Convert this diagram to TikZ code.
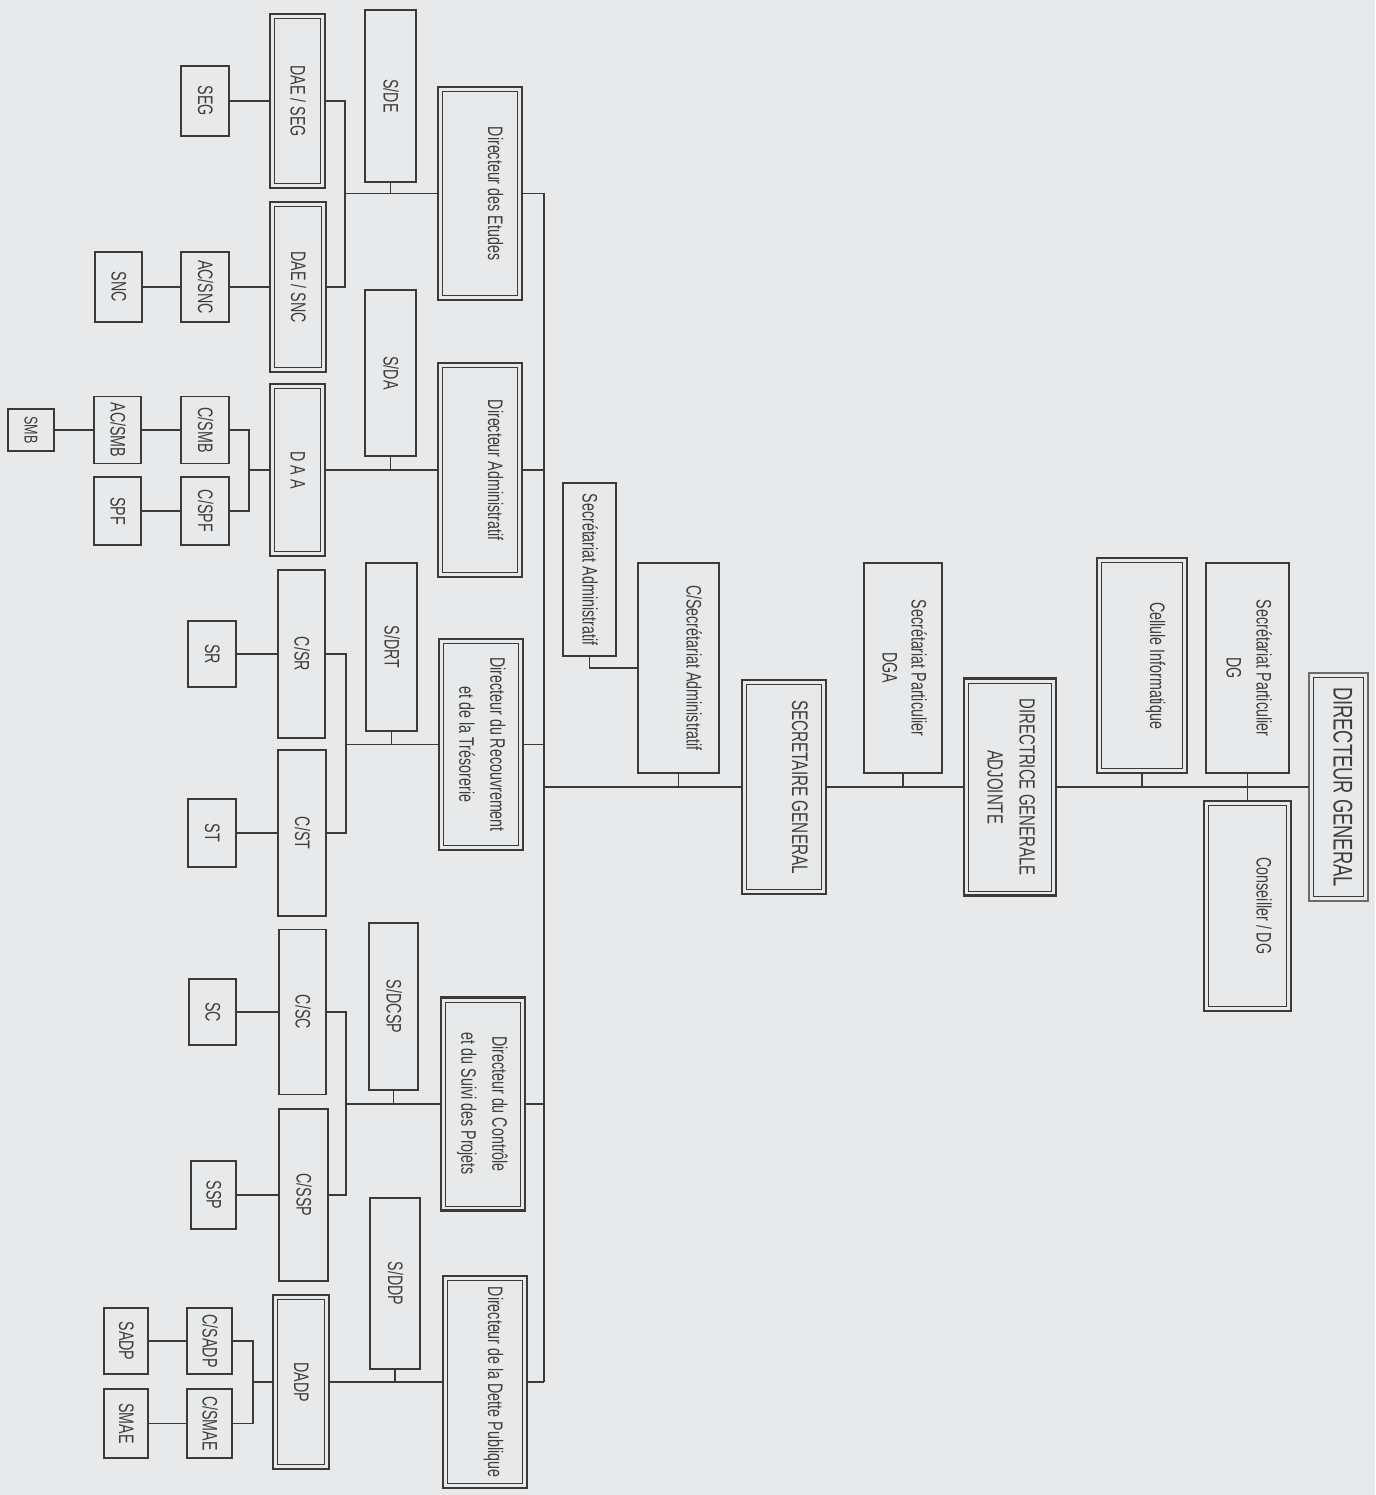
\documentclass[tikz,border=0pt]{standalone}
\usepackage{fontspec}
\setmainfont[FakeStretch=0.68]{Liberation Sans}
\usepackage{graphicx}
\definecolor{bg}{RGB}{231,233,235}
\definecolor{ink}{RGB}{58,58,58}
\definecolor{txt}{RGB}{62,62,62}
\newcommand\one[2][-7pt]{\rotatebox{-90}{\raisebox{#1}[0pt][0pt]{#2}}}
\newcommand\two[1]{\rotatebox{-90}{\begin{tabular}{@{}c@{}}#1\end{tabular}}}
\tikzset{
  box/.style={rectangle, inner sep=0pt, outer sep=0pt, text=txt, font=\fontsize{21}{31}\selectfont},
  sz/.style 2 args={minimum width=#1pt, minimum height=#2pt},
  thin/.style={box, draw=ink, line width=1.3pt},
  thick/.style={box, draw=ink, line width=2.8pt},
  dbl/.style={box, draw=ink, line width=2.4pt,
    path picture={\draw[ink, line width=1pt]
      ([shift={(4.5pt,-4.5pt)}]path picture bounding box.north west) rectangle
      ([shift={(-4.5pt,4.5pt)}]path picture bounding box.south east);}},
  con/.style={draw=ink, line width=1.4pt}
}
\begin{document}
\begin{tikzpicture}[x=1pt,y=-1pt]
\fill[bg] (0,0) rectangle (1375,1495);
\useasboundingbox (0,0) rectangle (1375,1495);

% ---------- Directeur des Etudes ----------
\node[thin,sz={48}{70}] (SEG) at (205,101) {\one{SEG}};
\node[dbl,sz={55}{174}] (DAESEG) at (297.5,101) {\one{DAE / SEG}};
\node[thick,sz={51}{172}] (SDE) at (390.5,96) {\one{S/DE}};
\node[dbl,sz={84}{213}] (DE) at (480,193.5) {\one[8pt]{Directeur des Etudes}};
\node[thin,sz={47}{70}] (SNC) at (118.5,287) {\one{SNC}};
\node[thin,sz={48}{70}] (ACSNC) at (205,287) {\one{AC/SNC}};
\node[dbl,sz={56}{170}] (DAESNC) at (298,287) {\one{DAE / SNC}};
\coordinate (spT) at (544,193.5);
\coordinate (spB) at (544,1382);
\coordinate (bE) at (345,193.5);
\draw[con] (SEG.east) -- (SEG.east -| DAESEG.west);
\draw[con] (DAESEG.east) -| (bE) |- (DAESNC.east);
\draw[con] (SNC.east) -- (SNC.east -| ACSNC.west);
\draw[con] (ACSNC.east) -- (ACSNC.east -| DAESNC.west);
\draw[con] (bE) -- (bE -| DE.west);
\draw[con] (SDE.south) -- (SDE.south |- DE.west);
\draw[con] (DE.east) -- (spT);

% ---------- Directeur Administratif ----------
\node[thick,sz={51}{166}] (SDA) at (390.5,373) {\one{S/DA}};
\node[dbl,sz={84}{214}] (DA) at (480,470) {\one[8pt]{Directeur Administratif}};
\node[thin,sz={46}{42},font=\fontsize{18.5}{22}\selectfont] (SMB) at (31,430) {\one[-6.5pt]{SMB}};
\node[thin,sz={47}{67}] (ACSMB) at (117.5,430) {\one{AC/SMB}};
\node[thin,sz={48}{67}] (CSMB) at (205,430) {\one{C/SMB}};
\node[thin,sz={47}{68}] (SPF) at (117.5,511) {\one{SPF}};
\node[thin,sz={48}{68}] (CSPF) at (205,511) {\one{C/SPF}};
\node[dbl,sz={55}{172}] (DAA) at (297.5,470) {\one{D A A}};
\coordinate (bA) at (249,470);
\draw[con] (SMB.east) -- (SMB.east -| ACSMB.west);
\draw[con] (ACSMB.east) -- (ACSMB.east -| CSMB.west);
\draw[con] (SPF.east) -- (SPF.east -| CSPF.west);
\draw[con] (CSMB.east) -| (bA) |- (CSPF.east);
\draw[con] (bA) -- (DAA.west);
\draw[con] (DAA.east) -- (DA.west);
\draw[con] (SDA.south) -- (SDA.south |- DA.west);
\draw[con] (DA.east) -- (DA.east -| spT);

% ---------- Directeur du Recouvrement ----------
\node[thin,sz={48}{66}] (SR) at (212,654) {\one{SR}};
\node[thin,sz={47}{168}] (CSR) at (301.5,654) {\one{C/SR}};
\node[thick,sz={51}{168}] (SDRT) at (391.5,647) {\one{S/DRT}};
\node[dbl,sz={84}{211}] (DRT) at (481,744.5) {\two{Directeur du Recouvrement\\et de la Trésorerie}};
\node[thin,sz={48}{68}] (ST) at (212,833) {\one{ST}};
\node[thin,sz={48}{166}] (CST) at (302,833) {\one{C/ST}};
\coordinate (bR) at (346,744.5);
\draw[con] (SR.east) -- (SR.east -| CSR.west);
\draw[con] (CSR.east) -| (bR) |- (CST.east);
\draw[con] (ST.east) -- (ST.east -| CST.west);
\draw[con] (bR) -- (bR -| DRT.west);
\draw[con] (SDRT.south) -- (SDRT.south |- bR);
\draw[con] (DRT.east) -- (DRT.east -| spT);

% ---------- Directeur du Controle ----------
\node[thin,sz={47}{66}] (SC) at (212.5,1012) {\one{SC}};
\node[thin,sz={47}{165}] (CSC) at (302.5,1012) {\one{C/SC}};
\node[thick,sz={49}{167}] (SDCSP) at (393.5,1006.5) {\one{S/DCSP}};
\node[dbl,sz={84}{213}] (DCSP) at (483,1104) {\two{Directeur du Contrôle\\et du Suivi des Projets}};
\node[thin,sz={45}{68}] (SSP) at (213.5,1195) {\one{SSP}};
\node[thin,sz={49}{172}] (CSSP) at (303.5,1195) {\one{C/SSP}};
\coordinate (bC) at (346,1104);
\draw[con] (SC.east) -- (SC.east -| CSC.west);
\draw[con] (CSC.east) -| (bC) |- (CSSP.east);
\draw[con] (SSP.east) -- (SSP.east -| CSSP.west);
\draw[con] (bC) -- (bC -| DCSP.west);
\draw[con] (SDCSP.south) -- (SDCSP.south |- bC);
\draw[con] (DCSP.east) -- (DCSP.east -| spT);

% ---------- Directeur de la Dette Publique ----------
\node[thick,sz={50}{171}] (SDDP) at (395,1283.5) {\one{S/DDP}};
\node[dbl,sz={84}{212}] (DDP) at (485,1382) {\one[3pt]{Directeur de la Dette Publique}};
\node[dbl,sz={56}{174}] (DADP) at (301,1382) {\one{DADP}};
\node[thin,sz={45}{66}] (CSADP) at (209.5,1341) {\one{C/SADP}};
\node[thin,sz={45}{69}] (CSMAE) at (209.5,1423.5) {\one{C/SMAE}};
\node[thin,sz={44}{66}] (SADP) at (126,1341) {\one{SADP}};
\node[thin,sz={44}{69}] (SMAE) at (126,1423.5) {\one{SMAE}};
\coordinate (bD) at (253,1382);
\draw[con] (DDP.east) -- (spB);
\draw[con] (DDP.west) -- (DADP.east);
\draw[con] (SDDP.south) -- (SDDP.south |- DDP.west);
\draw[con] (DADP.west) -- (bD);
\draw[con] (CSADP.east) -| (bD) |- (CSMAE.east);
\draw[con] (SADP.east) -- (SADP.east -| CSADP.west);
\draw[con] (SMAE.east) -- (SMAE.east -| CSMAE.west);

% spine
\draw[con] (spT) -- (spB);

% ---------- top of the chart ----------
\node[thick,sz={53}{173}] (SA) at (589.5,569.5) {\one{Secrétariat Administratif}};
\node[thick,sz={81}{210}] (CSA) at (678.5,668) {\one[8pt]{C/Secrétariat Administratif}};
\node[dbl,sz={84}{214},font=\fontsize{22.5}{30}\selectfont] (SG) at (784,787) {\one[8pt]{SECRETAIRE GENERAL}};
\node[thick,sz={78}{210},font=\fontsize{21}{29}\selectfont] (SPDGA) at (903,668) {\two{Secrétariat Particulier\\DGA}};
\node[dbl,sz={92}{217},font=\fontsize{22}{32}\selectfont] (DGA) at (1010,787) {\two{DIRECTRICE GENERALE\\ADJOINTE}};
\node[dbl,sz={90}{215}] (CI) at (1142,665.5) {\one[8pt]{Cellule Informatique}};
\node[thick,sz={83}{210},font=\fontsize{21}{30}\selectfont] (SPDG) at (1247.5,668) {\two{Secrétariat Particulier\\DG}};
\node[dbl,sz={87}{210}] (CDG) at (1247.5,906) {\one[9pt]{Conseiller / DG}};
\node[dbl,sz={59}{228},draw=ink!75,font=\fontsize{27}{32}\selectfont] (DG) at (1338.5,787) {\one[-5pt]{DIRECTEUR GENERAL}};
\coordinate (spM) at (544,787);
\draw[con] (spM) -- (SG.west);
\draw[con] (SG.east) -- (DGA.west);
\draw[con] (DGA.east) -- (DG.west);
\draw[con] (CSA.south) -- (CSA.south |- spM);
\draw[con] (SA.south) |- (CSA.west);
\draw[con] (SPDGA.south) -- (SPDGA.south |- SG.east);
\draw[con] (CI.south) -- (CI.south |- DG.west);
\draw[con] (SPDG.south) -- (CDG.north);
\end{tikzpicture}
\end{document}
